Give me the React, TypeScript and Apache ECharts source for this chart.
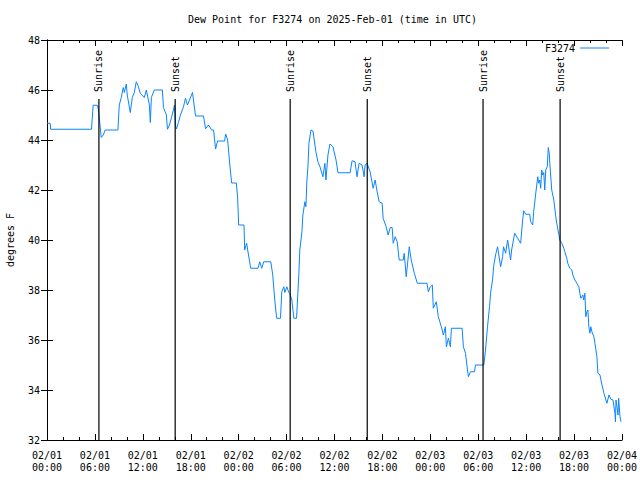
import React, { useEffect, useRef } from "react";
import * as echarts from "echarts";

const HOURS = [
  0, 0.4, 0.46, 5.57, 5.78, 6.3, 6.45, 6.79, 7.04, 7.29, 8.88, 9.05, 9.3, 9.55, 9.68, 9.93, 10.05, 10.43, 10.68, 10.93,
  11.18, 11.43, 11.68, 12.18, 12.44, 12.82, 12.94, 13.07, 13.44, 14.45, 14.58, 14.95, 15.08, 15.33, 15.58, 15.83, 15.96,
  16.08, 16.21, 16.46, 16.71, 17.09, 17.34, 17.59, 17.84, 18.22, 18.6, 19.6, 19.85, 20.23, 20.61, 20.86, 21.11, 21.36,
  22.24, 22.37, 22.62, 22.87, 23.12, 23.71, 23.87, 24.0, 24.67, 24.75, 25.0, 25.13, 25.51, 26.42, 26.64, 26.89, 27.14,
  28.02, 28.27, 28.52, 28.65, 28.77, 29.24, 29.4, 29.65, 29.78, 30.03, 30.28, 30.41, 30.66, 30.91, 31.25, 31.41, 31.54,
  31.66, 31.92, 32.04, 32.29, 32.42, 32.54, 32.67, 32.8, 33.05, 33.3, 33.67, 33.92, 34.18, 34.55, 34.8, 34.93, 35.18,
  35.43, 35.81, 36.19, 36.44, 37.95, 38.2, 38.57, 38.82, 39.08, 39.45, 39.71, 39.83, 40.08, 40.46, 40.84, 41.09, 41.34,
  41.59, 41.97, 42.09, 42.47, 42.72, 42.97, 43.22, 43.35, 43.6, 43.85, 44.1, 44.61, 44.73, 44.98, 45.36, 45.61, 45.99,
  46.37, 47.58, 47.75, 48.0, 48.25, 48.37, 48.75, 49.0, 49.38, 49.63, 49.88, 50.01, 50.26, 50.51, 50.64, 51.98, 52.14,
  52.4, 52.65, 52.77, 53.03, 53.53, 53.65, 54.7, 54.91, 55.16, 55.41, 55.54, 55.79, 55.92, 56.17, 56.42, 56.8, 57.05,
  57.17, 57.43, 57.68, 58.05, 58.18, 58.56, 58.93, 59.31, 59.56, 59.69, 59.94, 60.44, 60.57, 60.82, 60.94, 61.2, 61.45,
  61.57, 61.7, 61.82, 61.95, 62.07, 62.2, 62.33, 62.45, 62.64, 62.77, 62.89, 62.96, 63.2, 63.46, 63.71, 63.83, 64.08,
  64.21, 64.46, 64.71, 64.84, 65.09, 65.21, 65.47, 65.72, 65.84, 66.1, 66.35, 66.6, 66.72, 66.85, 67.1, 67.22, 67.35,
  67.47, 67.6, 67.73, 67.85, 67.98, 68.1, 68.23, 68.48, 68.61, 68.86, 68.98, 69.24, 69.49, 69.74, 69.99, 70.11, 70.37,
  70.62, 70.87, 71.12, 71.18, 71.25, 71.5, 71.58, 71.75, 71.87,
];

const DEW_POINT = [
  44.67, 44.67, 44.43, 44.43, 45.39, 45.39, 45.2, 44.1, 44.2, 44.4, 44.4, 45.4, 45.7, 46.1, 45.9, 46.24, 45.8, 45.1, 45.7,
  45.9, 46.33, 46.15, 45.87, 45.7, 46.0, 45.4, 44.7, 45.7, 46.0, 46.0, 45.3, 45.0, 44.43, 44.6, 44.9, 45.2, 45.4, 44.6,
  44.44, 44.7, 45.0, 45.33, 45.67, 45.4, 45.6, 45.9, 44.96, 44.96, 44.45, 44.6, 44.4, 44.4, 43.64, 43.96, 43.96, 44.24,
  44.0, 43.08, 42.28, 42.28, 41.68, 40.6, 40.6, 39.6, 39.87, 39.6, 38.87, 38.87, 39.13, 38.87, 39.13, 39.13, 38.6, 37.6,
  37.2, 36.87, 36.87, 37.93, 38.13, 37.9, 38.13, 37.9, 37.87, 37.6, 36.87, 36.87, 37.87, 38.67, 39.6, 40.33, 41.0, 41.53,
  41.33, 42.36, 42.93, 43.87, 44.4, 44.36, 43.53, 43.13, 42.93, 42.53, 43.07, 42.4, 43.4, 43.84, 43.73, 43.2, 42.69,
  42.69, 43.17, 43.13, 42.53, 43.07, 43.0, 42.53, 43.0, 43.07, 42.73, 42.07, 42.4, 41.93, 41.53, 41.47, 40.87, 40.53,
  40.2, 40.5, 40.5, 39.87, 40.13, 39.93, 39.2, 39.2, 39.47, 38.53, 39.73, 39.2, 38.67, 38.27, 38.27, 37.93, 38.13, 38.2,
  37.27, 37.53, 36.93, 36.53, 36.2, 36.53, 35.73, 36.07, 35.73, 36.47, 36.47, 35.73, 35.47, 34.8, 34.53, 34.73, 34.73,
  35.0, 35.0, 35.6, 36.53, 37.33, 37.87, 38.4, 38.93, 39.4, 39.73, 38.93, 39.33, 39.73, 39.47, 40.0, 39.2, 39.6, 40.27,
  40.07, 39.87, 40.8, 41.17, 41.03, 41.03, 40.73, 40.6, 41.13, 41.87, 42.53, 42.27, 42.4, 42.07, 42.8, 42.6, 42.7, 42.0,
  42.8, 42.93, 43.7, 43.47, 43.07, 42.0, 41.6, 40.93, 40.67, 40.24, 40.0, 39.87, 39.67, 39.53, 39.27, 39.07, 38.87, 38.8,
  38.6, 38.4, 38.27, 38.13, 37.87, 37.67, 37.8, 37.6, 37.87, 36.93, 37.13, 37.2, 36.53, 36.27, 36.53, 36.33, 36.13,
  35.87, 35.33, 34.67, 34.6, 34.2, 33.87, 33.6, 33.47, 33.8, 33.63, 33.6, 33.07, 32.73, 33.6, 33.0, 33.67, 32.93, 32.73,
];

const EVENT_HOURS = [6.5, 16.05, 30.45, 40.1, 54.6, 64.25];
const EVENT_LABELS = ["Sunrise", "Sunset", "Sunrise", "Sunset", "Sunrise", "Sunset"];
const EVENT_LINE_TOP = 45.64;
const EVENT_LABEL_BASE = 45.92;

const Y_MIN = 32;
const Y_MAX = 48;
const X_MIN = 0;
const X_MAX = 72;
const DAYS = ["02/01", "02/02", "02/03", "02/04"];

const TITLE = "Dew Point for F3274 on 2025-Feb-01 (time in UTC)";
const SERIES_NAME = "F3274";
const Y_NAME = "degrees F";

const FONT = "DejaVu Sans Mono";
const LINE_COLOR = "#0a84ff";

function fmtX(v: number): string {
  const day = DAYS[Math.floor(v / 24)];
  const hh = Math.round(v % 24);
  return `${day}\n${hh < 10 ? "0" + hh : hh}:00`;
}

export default function App() {
  const ref = useRef<HTMLDivElement>(null);
  useEffect(() => {
    if (!ref.current) return;
    const chart = echarts.init(ref.current, undefined, { renderer: "svg" });
    const axisLine = { show: true, lineStyle: { color: "#000", width: 1 } };
    const xBase = {
      type: "value" as const,
      min: X_MIN,
      max: X_MAX,
      interval: 6,
      axisLine,
      axisTick: { show: true, inside: true, length: 6, lineStyle: { color: "#000" } },
      minorTick: { show: true, splitNumber: 3, length: 3, lineStyle: { color: "#000" } },
      splitLine: { show: false },
    };
    const yBase = {
      type: "value" as const,
      min: Y_MIN,
      max: Y_MAX,
      interval: 2,
      axisLine,
      axisTick: { show: true, inside: true, length: 6, lineStyle: { color: "#000" } },
      splitLine: { show: false },
    };
    const lineData = HOURS.map((h, i) => [h, DEW_POINT[i]]);
    const eventData = EVENT_HOURS.map((h) => [h, Y_MIN]);
    chart.setOption({
      animation: false,
      backgroundColor: "#fff",
      title: {
        text: TITLE,
        left: 183,
        top: 9,
        textStyle: { fontFamily: FONT, fontSize: 10, fontWeight: "normal", color: "#000" },
      },
      legend: {
        data: [SERIES_NAME],
        left: 540,
        top: 38,
        align: "right",
        icon: "rect",
        itemWidth: 29,
        itemHeight: 1,
        textStyle: { fontFamily: FONT, fontSize: 10, color: "#000" },
      },
      grid: { left: 47, right: 18, top: 40, bottom: 40, containLabel: false, outerBoundsMode: "none" },
      xAxis: [
        {
          ...xBase,
          position: "bottom",
          axisLabel: {
            formatter: fmtX,
            fontFamily: FONT,
            fontSize: 10,
            color: "#000",
            lineHeight: 12,
            margin: 9,
          },
        },
        { ...xBase, position: "top", axisLabel: { show: false } },
      ],
      yAxis: [
        {
          ...yBase,
          position: "left",
          name: Y_NAME,
          nameLocation: "middle",
          nameGap: 32,
          nameTextStyle: { fontFamily: FONT, fontSize: 10, color: "#000" },
          axisLabel: { fontFamily: FONT, fontSize: 10, color: "#000", margin: 7 },
        },
        { ...yBase, position: "right", axisLabel: { show: false } },
      ],
      series: [
        {
          name: SERIES_NAME,
          type: "line",
          data: lineData,
          showSymbol: false,
          symbol: "none",
          lineStyle: { color: LINE_COLOR, width: 1 },
          itemStyle: { color: LINE_COLOR },
          z: 3,
        },
        {
          name: "events",
          type: "custom",
          data: eventData,
          z: 4,
          renderItem: (params: any, api: any) => {
            const t = api.value(0);
            const p0 = api.coord([t, Y_MIN]);
            const p1 = api.coord([t, EVENT_LINE_TOP]);
            const pt = api.coord([t, EVENT_LABEL_BASE]);
            return {
              type: "group",
              children: [
                {
                  type: "line",
                  shape: { x1: p0[0], y1: p0[1], x2: p1[0], y2: p1[1] },
                  style: { stroke: "#000", lineWidth: 1.2 },
                },
                {
                  type: "text",
                  x: pt[0],
                  y: pt[1],
                  rotation: Math.PI / 2,
                  style: {
                    text: EVENT_LABELS[params.dataIndex],
                    fontFamily: FONT,
                    fontSize: 10,
                    fill: "#000",
                    align: "left",
                    verticalAlign: "middle",
                  },
                },
              ],
            };
          },
        },
      ],
    });
    return () => chart.dispose();
  }, []);
  return <div ref={ref} style={{ position: "fixed", left: 0, top: 0, width: 640, height: 480 }} />;
}
